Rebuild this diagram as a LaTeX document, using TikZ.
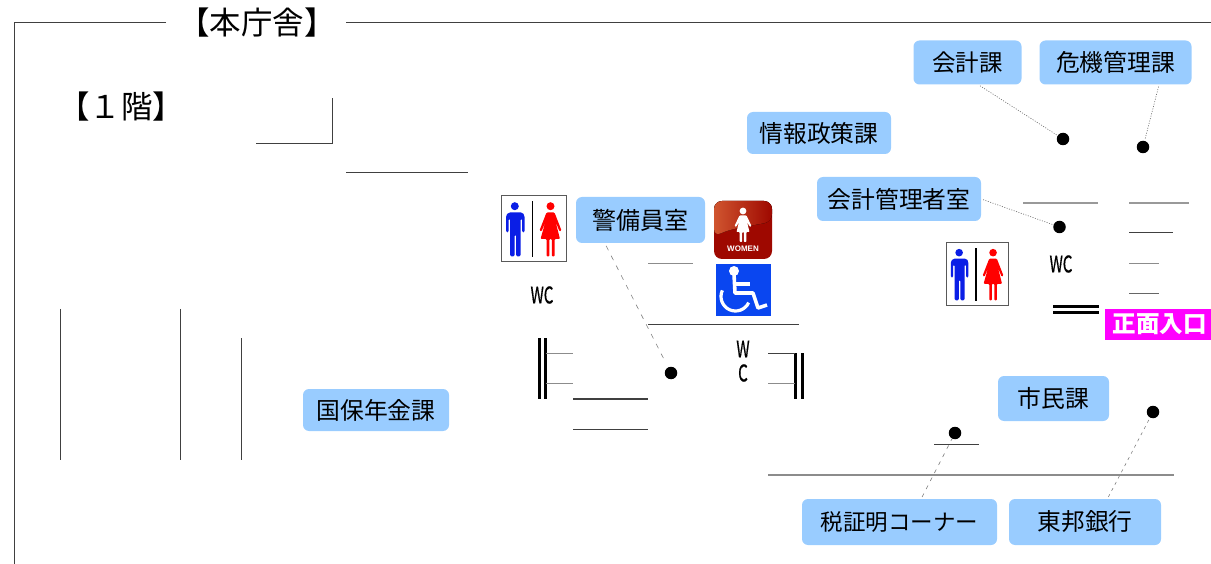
\documentclass[tikz,border=0pt]{standalone}
\usepackage{fontspec}
\setmainfont{Noto Sans CJK JP}
\newfontfamily\signfont{Liberation Sans}
\newfontfamily\wcfont[FakeBold=0.6]{Noto Sans CJK JP}

\definecolor{roomblue}{HTML}{99CCFF}
\definecolor{wheelblue}{HTML}{0A46F0}
\definecolor{manblue}{HTML}{0A1EE6}
\definecolor{ladyred}{HTML}{FF0000}
\definecolor{entrancepink}{HTML}{FF00FF}
\definecolor{signlight}{HTML}{D0552F}
\definecolor{signdark}{HTML}{9E0800}

\tikzstyle{room}=[fill=roomblue,rounded corners=6pt,inner sep=0pt,minimum height=44pt,font=\fontsize{23.8}{24}\selectfont]
\tikzstyle{wall}=[draw=black!75,line width=1pt]
\tikzstyle{wallgray}=[draw=black!45,line width=1.2pt]
\tikzstyle{bar}=[draw=black,line width=3pt]
\tikzstyle{spot}=[circle,fill=black,inner sep=0pt,minimum size=12.5pt]
\tikzstyle{dotline}=[draw=black!60,line width=0.6pt,dash pattern=on 1pt off 1.5pt]
\tikzstyle{dashline}=[draw=black!50,line width=0.6pt,dash pattern=on 5pt off 6pt]
\tikzstyle{heading}=[inner sep=0pt,font=\fontsize{31.5}{32}\selectfont]
\tikzstyle{wc}=[inner sep=0pt,font=\wcfont\fontsize{23}{23}\selectfont]

\tikzset{
  toilet/.pic={
    \draw[draw=black!65,fill=white,line width=1.2pt] (0,0) rectangle (65,66);
    \fill[manblue] (13.3,10.7) circle (4);
    \fill[manblue,rounded corners=1.5pt] (7,17) -- (21,17) -- (23,20) -- (23,37) -- (20.6,37) -- (20.6,23)
      -- (19,23) -- (19,61) -- (14.5,61) -- (14.5,39) -- (13,39) -- (13,61) -- (8.5,61) -- (8.5,23)
      -- (7,23) -- (7,37) -- (4.5,37) -- (4.5,20) -- cycle;
    \draw[black,line width=1.8pt] (31,6) -- (31,62);
    \fill[ladyred] (49,10.7) circle (4);
    \fill[ladyred,rounded corners=1pt] (45,17) -- (53,17) -- (60,35) -- (58,36) -- (54,26) -- (58.5,43.5)
      -- (53,43.5) -- (53,61) -- (50.4,61) -- (50.4,43.5) -- (47.8,43.5) -- (47.8,61) -- (45,61) -- (45,43.5)
      -- (39,43.5) -- (44,26) -- (40,36) -- (38,35) -- cycle;
  },
  women/.pic={
    \fill[rounded corners=8pt,fill=signdark] (0,0) rectangle (58,58);
    \fill[rounded corners=8pt,left color=signlight,right color=signdark] (0,0) -- (58,0) -- (58,21)
      .. controls (40,24) and (15,28) .. (0,36) -- cycle;
    \fill[white] (29,10) circle (3.4);
    \fill[white,rounded corners=0.8pt] (25.5,14.5) -- (32.5,14.5) -- (37.5,25) -- (36,26) -- (33,21) -- (35.5,31)
      -- (32.3,31) -- (32.3,41) -- (29.8,41) -- (29.8,31) -- (28.2,31) -- (28.2,41) -- (25.7,41) -- (25.7,31)
      -- (22.5,31) -- (25,21) -- (22,26) -- (20.5,25) -- cycle;
    \node[white,inner sep=0pt,font=\signfont\bfseries\fontsize{8}{8}\selectfont] (womentext) at (29,47.5) {WOMEN};
  },
  wheelchair/.pic={
    \fill[wheelblue] (0,0) rectangle (55,52);
    \fill[white] (18,7) circle (5);
    \draw[white,line width=3.6pt,line join=round] (18,10) -- (19,29) -- (37,29) -- (42,44) -- (51,41);
    \draw[white,line width=3.2pt] (19,20) -- (34,20);
    \draw[white,line width=3.2pt] (19.5,32.5) ++(205:14.5) arc[start angle=205,end angle=25,radius=14.5];
  }
}

\begin{document}
\begin{tikzpicture}[x=1pt,y=-1pt]

   \useasboundingbox (0,0) rectangle (1211,564);

   % frame
   \draw[wall] (166,22.5) -- (14.5,22.5) -- (14.5,564);
   \draw[wall] (346,22.5) -- (1211,22.5);
   \node[heading] (title) at (257,23) {【本庁舎】};
   \node[heading] (floor) at (121,107) {【１階】};

   % walls
   \draw[wall] (256,143.5) -- (332.5,143.5) -- (332.5,98);
   \draw[wall] (346,172.5) -- (468,172.5);
   \draw[wall] (60.5,309) -- (60.5,460);
   \draw[wall] (180.5,309) -- (180.5,460);
   \draw[wall] (241,338) -- (241,460);

   \draw[wallgray] (648,263.5) -- (693,263.5);
   \draw[wall] (648,324.5) -- (799,324.5);
   \draw[bar] (539.5,338) -- (539.5,399);
   \draw[bar] (545.5,338) -- (545.5,399);
   \draw[wallgray,line width=1pt] (546,353.5) -- (573,353.5);
   \draw[wallgray,line width=1pt] (546,383.5) -- (573,383.5);
   \draw[wall,line width=1.4pt] (573,399) -- (648,399);
   \draw[wall,line width=1.2pt] (573,429.5) -- (648,429.5);
   \draw[bar] (795.5,353) -- (795.5,399);
   \draw[bar] (802,353) -- (802,399);
   \draw[wall] (768,353.5) -- (795,353.5);
   \draw[wallgray,line width=1pt] (768,383.5) -- (795,383.5);

   \draw[wallgray,draw=black!40,line width=1.4pt] (1023,203) -- (1098,203);
   \draw[wallgray,draw=black!40,line width=1.4pt] (1129,203) -- (1189,203);
   \draw[wall] (1129,233) -- (1173,233);
   \draw[wallgray,line width=1pt] (1129,263.5) -- (1159,263.5);
   \draw[wall,draw=black!60] (1129,294) -- (1159,294);
   \draw[bar] (1053,306.5) -- (1099,306.5);
   \draw[bar] (1053,313) -- (1099,313);

   \draw[wall] (934,444) -- (979,444);
   \draw[wallgray] (768,475) -- (1174,475);

   % signs
   \pic at (501.5,195.5) {toilet};
   \pic[scale=0.95] at (946.5,242.5) {toilet};
   \pic at (714,201) {women};
   \pic at (716,264) {wheelchair};

   \node[wc] (wc1) at (542,295) {\scalebox{0.66}[1]{WC}};
   \node[wc] (wc2) at (1061,264) {\scalebox{0.66}[1]{WC}};
   \node[wc] (wc3) at (743,349) {\scalebox{0.66}[1]{W}};
   \node[wc] (wc4) at (743,373) {\scalebox{0.66}[1]{C}};

   % rooms
   \node[room,minimum width=108pt,font=\fontsize{23.5}{24}\selectfont] (kaikei) at (967.5,62.5) {会計課};
   \node[room,minimum width=152pt] (kiki) at (1115.5,62.5) {危機管理課};
   \node[room,minimum width=144pt,minimum height=42pt] (joho) at (819,133) {情報政策課};
   \node[room,minimum width=164pt] (kanri) at (899,199) {会計管理者室};
   \node[room,minimum width=129pt,minimum height=46pt,font=\fontsize{24}{24}\selectfont] (keibi) at (640.5,220) {警備員室};
   \node[room,minimum width=146pt,minimum height=42pt] (kokuho) at (376,410) {国保年金課};
   \node[room,minimum width=111pt,minimum height=45pt] (shimin) at (1053.5,398.5) {市民課};
   \node[room,minimum width=195pt,minimum height=46pt,font=\fontsize{22.5}{23}\selectfont] (zei) at (899.5,522) {税証明コーナー};
   \node[room,minimum width=152pt,minimum height=46pt] (toho) at (1085,522) {東邦銀行};

   \node[fill=entrancepink,text=white,inner sep=0pt,minimum width=106pt,minimum height=31pt,
     font=\bfseries\fontsize{23.5}{24}\selectfont] (entrance) at (1158,324.5) {\hspace*{3pt}正面入口};

   % spots and leaders
   \node[spot] (s1) at (1063,139) {};
   \node[spot] (s2) at (1143,147) {};
   \node[spot] (s3) at (1059.5,227) {};
   \node[spot] (s4) at (671,373) {};
   \node[spot] (s5) at (955,433) {};
   \node[spot] (s6) at (1153,412) {};

   \draw[dotline,shorten <=2pt,shorten >=1pt] (kaikei.-64) -- (s1);
   \draw[dotline,shorten <=2pt,shorten >=1pt] (kiki.-27) -- (s2);
   \draw[dotline,shorten <=2pt,shorten >=1pt] (kanri.east) -- (s3);
   \draw[dashline,shorten <=3pt,shorten >=9pt] (keibi.213) -- (s4);
   \draw[dashline,dash pattern=on 4pt off 5pt,shorten <=2pt] (zei.47) -- (s5);
   \draw[dashline,dash pattern=on 3pt off 4pt,shorten <=2pt] (toho.46) -- (s6);

\end{tikzpicture}
\end{document}
